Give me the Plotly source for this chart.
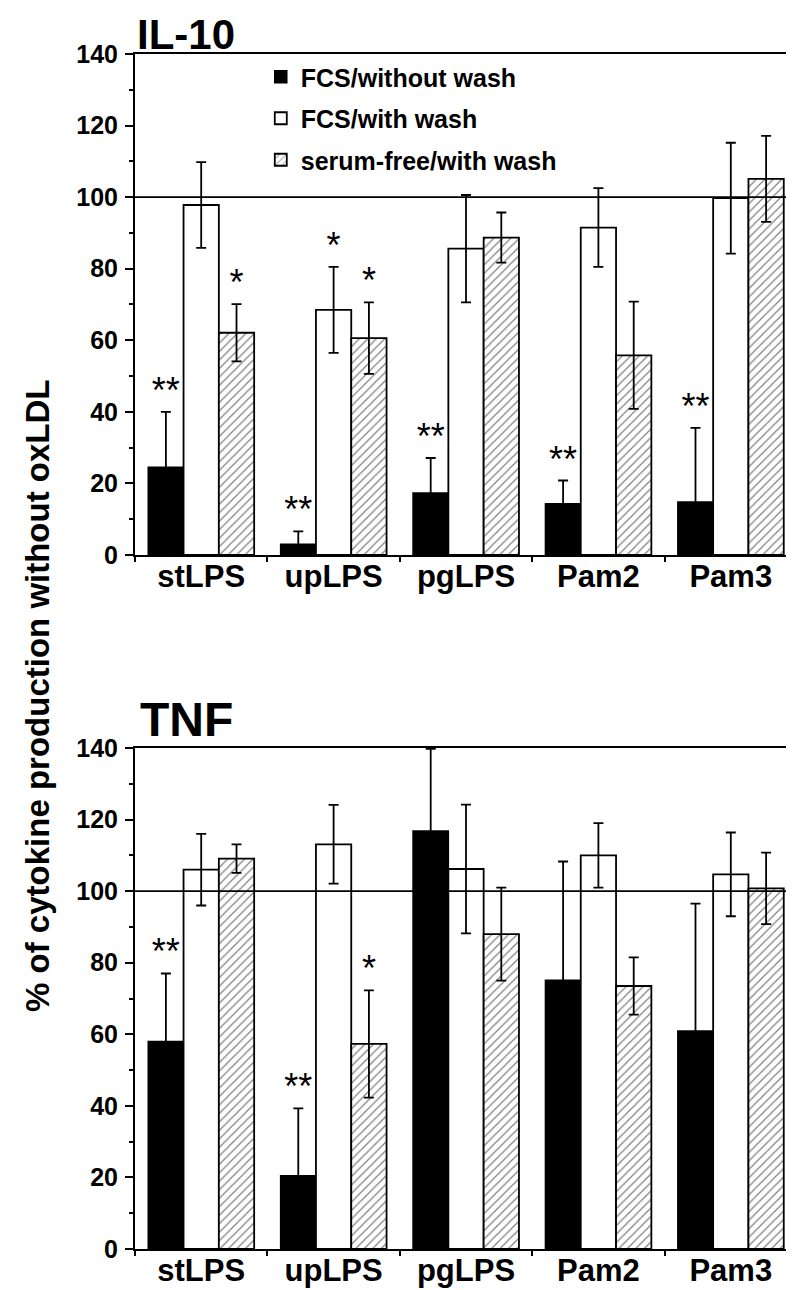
import plotly.graph_objects as go
from plotly.subplots import make_subplots

categories = ["stLPS", "upLPS", "pgLPS", "Pam2", "Pam3"]
series_names = ["FCS/without wash", "FCS/with wash", "serum-free/with wash"]

il10_fcs_nowash = [24.5, 3.0, 17.3, 14.3, 14.8]
il10_fcs_nowash_err = [15.5, 3.6, 9.8, 6.5, 20.7]
il10_fcs_wash = [97.8, 68.5, 85.6, 91.5, 99.7]
il10_fcs_wash_err = [12.0, 12.0, 15.0, 11.0, 15.5]
il10_sf_wash = [62.1, 60.6, 88.7, 55.8, 105.1]
il10_sf_wash_err = [8.0, 10.0, 7.0, 15.0, 12.0]

tnf_fcs_nowash = [58.0, 20.5, 116.8, 75.1, 60.9]
tnf_fcs_nowash_err = [19.0, 18.8, 23.0, 33.2, 35.6]
tnf_fcs_wash = [106.0, 113.1, 106.2, 110.0, 104.7]
tnf_fcs_wash_err = [10.0, 11.0, 18.0, 9.0, 11.7]
tnf_sf_wash = [109.1, 57.3, 88.0, 73.5, 100.8]
tnf_sf_wash_err = [4.0, 15.0, 13.0, 8.0, 10.0]

il10_stars_nowash = ["**", "**", "**", "**", "**"]
il10_stars_wash = ["", "*", "", "", ""]
il10_stars_sf = ["*", "*", "", "", ""]
tnf_stars_nowash = ["**", "**", "", "", ""]
tnf_stars_wash = ["", "", "", "", ""]
tnf_stars_sf = ["", "*", "", "", ""]

reference_level = 100

FONT = "Liberation Sans"
BARGAP = 0.2

fig = make_subplots(rows=2, cols=1, vertical_spacing=0.1616)

styles = [
    dict(marker=dict(color="black", line=dict(color="black", width=1.5))),
    dict(marker=dict(color="white", line=dict(color="black", width=1.8))),
    dict(marker=dict(color="white", line=dict(color="black", width=1.8),
                     pattern=dict(shape="/", fgcolor="black", bgcolor="white",
                                  size=6, solidity=0.2))),
]

panels = [
    ([il10_fcs_nowash, il10_fcs_wash, il10_sf_wash],
     [il10_fcs_nowash_err, il10_fcs_wash_err, il10_sf_wash_err],
     [il10_stars_nowash, il10_stars_wash, il10_stars_sf]),
    ([tnf_fcs_nowash, tnf_fcs_wash, tnf_sf_wash],
     [tnf_fcs_nowash_err, tnf_fcs_wash_err, tnf_sf_wash_err],
     [tnf_stars_nowash, tnf_stars_wash, tnf_stars_sf]),
]

xpos = list(range(len(categories)))
bw = (1 - BARGAP) / 3

for r, (vals, errs, stars) in enumerate(panels, start=1):
    for k in range(3):
        fig.add_trace(go.Bar(
            x=xpos, y=vals[k], name=series_names[k],
            legendgroup=series_names[k], showlegend=(r == 1),
            error_y=dict(type="data", array=errs[k], visible=True,
                         color="black", thickness=1.8, width=5),
            **styles[k]), row=r, col=1)
    for k in range(3):
        fig.add_trace(go.Scatter(
            x=[x + (k - 1) * bw for x in xpos],
            y=[v + e for v, e in zip(vals[k], errs[k])],
            text=stars[k], mode="text", textposition="top center",
            textfont=dict(family=FONT, size=36, color="black"),
            showlegend=False, hoverinfo="skip", cliponaxis=False), row=r, col=1)

for r in (1, 2):
    fig.update_xaxes(
        range=[-0.5, 4.5], tickvals=xpos, ticktext=categories, ticks="",
        tickfont=dict(family=FONT, size=31, color="black", weight="bold"),
        ticklabelstandoff=-7, automargin=False,
        minor=dict(tickvals=[i - 0.5 for i in range(6)], ticks="outside",
                   ticklen=5, tickwidth=2, tickcolor="black"),
        showline=True, linecolor="black", linewidth=2, mirror=True,
        showgrid=False, zeroline=False, row=r, col=1)
    fig.update_yaxes(
        range=[0, 140], tickvals=list(range(0, 141, 20)), ticks="outside",
        ticklen=8, tickwidth=2, tickcolor="black",
        tickfont=dict(family=FONT, size=25, color="black", weight="bold"),
        ticklabelstandoff=2, automargin=False,
        minor=dict(dtick=10, tick0=0, ticks="outside", ticklen=4,
                   tickwidth=2, tickcolor="black"),
        showline=True, linecolor="black", linewidth=2, mirror=True,
        showgrid=False, zeroline=False, row=r, col=1)

fig.add_hline(y=reference_level, line=dict(color="black", width=1.8),
              layer="above", row=1, col=1)
fig.add_hline(y=reference_level, line=dict(color="black", width=1.8),
              layer="above", row=2, col=1)

fig.update_layout(
    width=794, height=1290,
    margin=dict(l=127, r=5, t=46, b=49),
    paper_bgcolor="white", plot_bgcolor="white",
    barmode="group", bargap=BARGAP, bargroupgap=0,
    font=dict(family=FONT, color="black"),
    legend=dict(x=0.19, y=1.0, xanchor="left", yanchor="top",
                bgcolor="rgba(0,0,0,0)", tracegroupgap=6,
                font=dict(family=FONT, size=25, color="black", weight="bold")),
    annotations=[
        dict(text="IL-10", x=0.0, y=1.0377, xref="paper", yref="paper",
             xanchor="left", yanchor="top", showarrow=False,
             font=dict(family=FONT, size=42, color="black", weight="bold")),
        dict(text="TNF", x=0.005, y=0.4427, xref="paper", yref="paper",
             xanchor="left", yanchor="middle", showarrow=False,
             font=dict(family=FONT, size=48, color="black", weight="bold")),
        dict(text="% of cytokine production without oxLDL", textangle=-90,
             x=-0.1465, y=0.4628, xref="paper", yref="paper",
             xanchor="center", yanchor="middle", showarrow=False,
             font=dict(family=FONT, size=33, color="black", weight="bold")),
    ],
)

fig.write_html("out.html")
